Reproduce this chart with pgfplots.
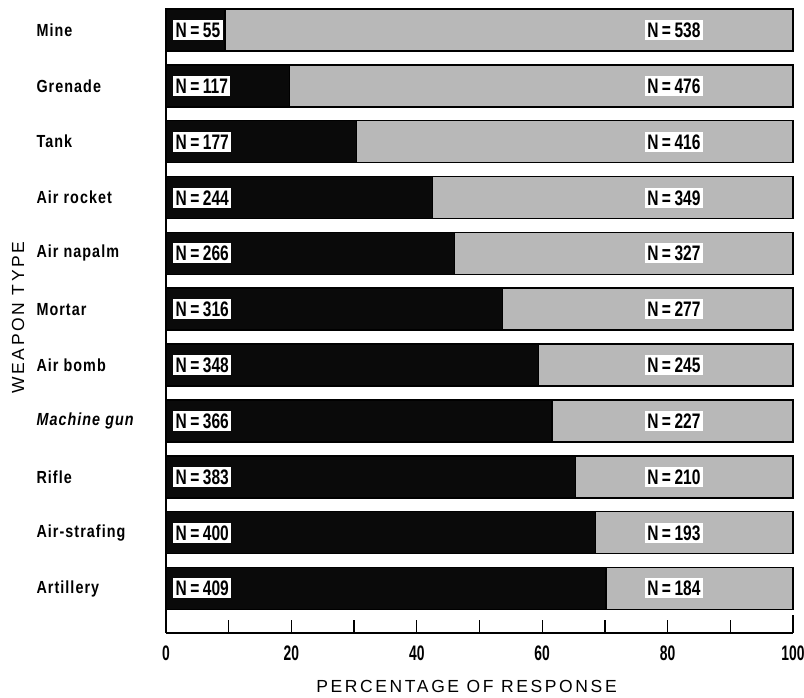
\documentclass[border=0pt]{standalone}
\usepackage{pgfplots}
\pgfplotsset{compat=1.18}
\usepackage{pgfplotstable}
\usepackage{fontspec}
\setmainfont{Liberation Sans}
\newfontfamily\cond{Liberation Sans}[FakeStretch=0.74]
\newfontfamily\tickf{Liberation Sans}[FakeStretch=0.66]
\newfontfamily\catf{Liberation Sans}[FakeStretch=0.82, LetterSpace=6]
\newfontfamily\spaced{Liberation Sans}[LetterSpace=15]
\definecolor{lightbar}{rgb}{0.72,0.72,0.72}
\definecolor{darkbar}{rgb}{0.04,0.04,0.04}

\pgfplotstableread{
y dark light nl nr
10 9.4 90.6 55 538
9 19.7 80.3 117 476
8 30.4 69.6 177 416
7 42.5 57.5 244 349
6 46.0 54.0 266 327
5 53.7 46.3 316 277
4 59.4 40.6 348 245
3 61.6 38.4 366 227
2 65.3 34.7 383 210
1 68.5 31.5 400 193
0 70.2 29.8 409 184
}\data

\begin{document}
\begin{tikzpicture}
\path[use as bounding box] (-166pt,-65pt) rectangle (638pt,633pt);
\begin{axis}[
  at={(0,0)}, anchor=south west,
  scale only axis, width=627pt, height=623pt,
  xbar stacked, bar width=42pt,
  xmin=0, xmax=100, ymin=-0.797, ymax=10.358,
  axis x line=bottom, axis y line=left,
  axis line style={-, line width=1.6pt},
  xtick={0,20,...,100}, minor xtick={10,30,...,90},
  tick align=inside, major tick length=13pt, minor tick length=13pt,
  every tick/.style={black, line width=1.3pt},
  extra x ticks={100}, extra x tick labels={},
  extra x tick style={major tick length=18pt},
  ytick={0,...,10},
  yticklabels={Artillery, Air-strafing, Rifle, {\itshape Machine gun}, Air bomb, Mortar, Air napalm, Air rocket, Tank, Grenade, Mine},
  ytick style={draw=none},
  yticklabel style={anchor=west, xshift=-133pt, font=\catf\bfseries\fontsize{17.5}{18}\selectfont},
  xticklabel style={yshift=-9pt, font=\tickf\bfseries\fontsize{21}{22}\selectfont},
  /pgf/number format/assume math mode=true,
  xlabel={PERCENTAGE OF RESPONSE},
  xlabel style={at={(axis description cs:0.5,0)}, anchor=center, yshift=-53pt, xshift=-13pt, font=\spaced\fontsize{17.5}{18}\selectfont},
  ylabel={WEAPON TYPE},
  ylabel style={at={(axis description cs:0,0.5)}, anchor=center, yshift=148pt, xshift=4pt, font=\spaced\fontsize{17.5}{18}\selectfont},
  clip=false,
]
\addplot[fill=darkbar, draw=black, line width=1.6pt] table[x=dark, y=y] {\data};
\addplot[fill=lightbar, draw=black, line width=1.6pt] table[x=light, y=y] {\data};
% stacked-bar node placement puts labels at the middle of (0, x): x doubled
\addplot[stack plots=false, sharp plot, draw=none,
  nodes near coords={N\,=\,\pgfplotspointmeta}, point meta=explicit symbolic,
  every node near coord/.style={anchor=west, fill=white, inner sep=2.5pt, text height=15pt, text depth=0pt,
    font=\cond\bfseries\fontsize{21}{22}\selectfont}]
  table[x expr=2.2, y=y, meta=nl] {\data};
\addplot[stack plots=false, sharp plot, draw=none,
  nodes near coords={N\,=\,\pgfplotspointmeta}, point meta=explicit symbolic,
  every node near coord/.style={anchor=center, fill=white, inner sep=2.5pt, text height=15pt, text depth=0pt,
    font=\cond\bfseries\fontsize{21}{22}\selectfont}]
  table[x expr=162, y=y, meta=nr] {\data};
\end{axis}
\end{tikzpicture}
\end{document}
